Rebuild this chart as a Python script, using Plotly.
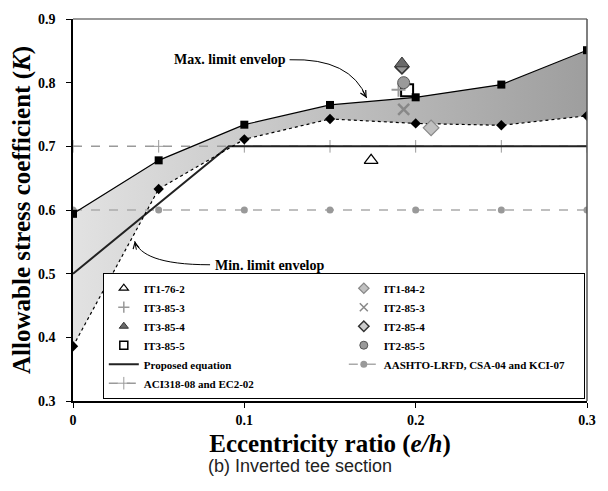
import plotly.graph_objects as go

# ---------------- data ----------------
ecc = [0, 0.05, 0.1, 0.15, 0.2, 0.25, 0.3]
max_env = [0.594, 0.678, 0.734, 0.765, 0.777, 0.797, 0.851]
min_env = [0.386, 0.633, 0.711, 0.743, 0.736, 0.733, 0.748]
aci_k = [0.7, 0.7, 0.7, 0.7, 0.7, 0.7, 0.7]
aashto_k = [0.6, 0.6, 0.6, 0.6, 0.6, 0.6, 0.6]
prop_x = [0, 0.0909, 0.3]
prop_k = [0.5, 0.7, 0.7]

specimens = ["IT1-76-2", "IT1-84-2", "IT3-85-3", "IT2-85-3",
             "IT3-85-4", "IT2-85-4", "IT3-85-5", "IT2-85-5"]
spec_x = [0.174, 0.209, 0.190, 0.193, 0.192, 0.192, 0.195, 0.193]
spec_k = [0.678, 0.729, 0.789, 0.758, 0.830, 0.824, 0.788, 0.800]

serif = "Liberation Serif"
fig = go.Figure()

# gradient band between envelopes
fig.add_trace(go.Scatter(x=ecc, y=min_env, mode="lines", line=dict(width=0),
                         showlegend=False, hoverinfo="skip"))
fig.add_trace(go.Scatter(x=ecc, y=max_env, mode="lines", line=dict(width=0),
                         fill="tonexty",
                         fillgradient=dict(type="horizontal",
                                           colorscale=[[0, "#e2e2e2"], [1, "#9e9e9e"]]),
                         showlegend=False, hoverinfo="skip"))

# reference lines
fig.add_trace(go.Scatter(x=ecc, y=aci_k, mode="lines+markers", name="ACI318-08 and EC2-02",
                         line=dict(color="#9a9a9a", width=1.5, dash="dash"),
                         marker=dict(symbol="cross-thin", size=9, line=dict(color="#9a9a9a", width=1)),
                         legendrank=11))
fig.add_trace(go.Scatter(x=ecc, y=aashto_k, mode="lines+markers",
                         name="AASHTO-LRFD, CSA-04 and KCI-07",
                         line=dict(color="#aaaaaa", width=1.5, dash="dash"),
                         marker=dict(symbol="circle", size=7, color="#999999"),
                         legendrank=10))
fig.add_trace(go.Scatter(x=prop_x, y=prop_k, mode="lines", name="Proposed equation",
                         line=dict(color="#222222", width=2), legendrank=9))

# envelopes
fig.add_trace(go.Scatter(x=ecc, y=max_env, mode="lines+markers", showlegend=False,
                         line=dict(color="black", width=1.2),
                         marker=dict(symbol="square", size=8, color="black")))
fig.add_trace(go.Scatter(x=ecc, y=min_env, mode="lines+markers", showlegend=False,
                         line=dict(color="black", width=1.2, dash="dot"),
                         marker=dict(symbol="diamond", size=8, color="black")))

# specimens
styles = {
    "IT1-76-2": dict(symbol="triangle-up-open", color="black", line=dict(width=1.2, color="black")),
    "IT1-84-2": dict(symbol="diamond", color="#c0c0c0", line=dict(width=1.2, color="#888888")),
    "IT3-85-3": dict(symbol="cross-thin", color="#999999", line=dict(width=2, color="#999999")),
    "IT2-85-3": dict(symbol="x-thin", color="#888888", line=dict(width=2.5, color="#888888")),
    "IT3-85-4": dict(symbol="triangle-up", color="#6a6a6a", line=dict(width=1, color="#333333")),
    "IT2-85-4": dict(symbol="diamond", color="#999999", line=dict(width=1.5, color="#333333")),
    "IT3-85-5": dict(symbol="square-open", color="black", line=dict(width=2, color="black")),
    "IT2-85-5": dict(symbol="circle", color="#9a9a9a", line=dict(width=1, color="#555555")),
}
plot_size = {"IT3-85-3": 10, "IT2-85-3": 11, "IT2-85-4": 10, "IT3-85-4": 13}
draw_order = ["IT1-76-2", "IT1-84-2", "IT2-85-3", "IT2-85-4", "IT3-85-4",
              "IT3-85-5", "IT3-85-3", "IT2-85-5"]
for name in draw_order:
    i = specimens.index(name)
    fig.add_trace(go.Scatter(x=[spec_x[i]], y=[spec_k[i]], mode="markers", name=name,
                             legendgroup=name, showlegend=False,
                             marker=dict(size=plot_size.get(name, 12), **styles[name])))
    # legend entry with smaller symbol (no data points)
    leg_style = dict(styles[name])
    leg_style["line"] = dict(styles[name]["line"])
    leg_style["line"]["width"] = min(leg_style["line"]["width"], 1.5)
    if name == "IT2-85-4":
        leg_style["color"] = "#cccccc"
    fig.add_trace(go.Scatter(x=[None], y=[None], mode="markers", name=name,
                             legendgroup=name, legendrank=i + 1,
                             marker=dict(size=8, **leg_style)))

# curved arrows (annotation leaders)
fig.add_shape(type="path", xref="x", yref="y",
              path="M 0.1264,0.836 Q 0.1620,0.839 0.1714,0.776",
              line=dict(color="black", width=1))
fig.add_shape(type="path", xref="x", yref="y",
              path="M 0.0360,0.551 C 0.0390,0.530 0.0500,0.514 0.0800,0.514",
              line=dict(color="black", width=1))
fig.add_annotation(x=0.1714, y=0.776, ax=-5, ay=-9, text="", showarrow=True,
                   arrowhead=5, arrowsize=1.2, arrowwidth=1, arrowcolor="black")
fig.add_annotation(x=0.0360, y=0.551, ax=2, ay=10, text="", showarrow=True,
                   arrowhead=5, arrowsize=1.2, arrowwidth=1, arrowcolor="black")

fig.add_annotation(x=0.1252, y=0.836, text="Max. limit envelop", showarrow=False,
                   xanchor="right", yanchor="middle",
                   font=dict(family=serif, size=14, color="black", weight="bold"))
fig.add_annotation(x=0.0815, y=0.513, text="Min. limit envelop", showarrow=False,
                   xanchor="left", yanchor="middle",
                   font=dict(family=serif, size=14, color="black", weight="bold"))

fig.add_annotation(xref="paper", yref="paper", x=0.442, y=-0.169,
                   text="(b) Inverted tee section", showarrow=False,
                   xanchor="center", yanchor="middle",
                   font=dict(family="Liberation Sans", size=18, color="#222222"))

fig.update_layout(
    width=608, height=491,
    margin=dict(l=73, r=15, t=16, b=90),
    plot_bgcolor="white", paper_bgcolor="white",
    font=dict(family=serif, color="black"),
    legend=dict(orientation="h", traceorder="normal", x=0.058, y=0.006,
                xanchor="left", yanchor="bottom",
                entrywidth=195, entrywidthmode="pixels",
                bgcolor="white", bordercolor="black", borderwidth=1,
                font=dict(family=serif, size=11, color="black", weight="bold")),
    xaxis=dict(range=[0, 0.3], tickvals=[0, 0.1, 0.2, 0.3], ticktext=["0", "0.1", "0.2", "0.3"],
               showgrid=False, zeroline=False, showline=True, linecolor="black", linewidth=1.5,
               mirror=False, ticks="outside", ticklen=5, tickcolor="black",
               tickfont=dict(family=serif, size=14, weight="bold"),
               title=dict(text="Eccentricity ratio (<i>e/h</i>)", standoff=8,
                          font=dict(family=serif, size=25, weight="bold"))),
    yaxis=dict(range=[0.3, 0.9], tickvals=[0.3, 0.4, 0.5, 0.6, 0.7, 0.8, 0.9],
               tickformat=".1f", ticklabelstandoff=8,
               showgrid=False, zeroline=False, showline=True, linecolor="black", linewidth=1.5,
               mirror=False, ticks="outside", ticklen=5, tickcolor="black",
               tickfont=dict(family=serif, size=14, weight="bold"),
               title=dict(text="Allowable stress coefficient (<i>K</i>)", standoff=0,
                          font=dict(family=serif, size=25, weight="bold"))),
)
# top and right frame
fig.add_shape(type="line", xref="paper", yref="paper", x0=0, x1=1, y0=1, y1=1,
              line=dict(color="#777777", width=1.5))
fig.add_shape(type="line", xref="paper", yref="paper", x0=1, x1=1, y0=0, y1=1,
              line=dict(color="#555555", width=1.5))

fig.write_html("out.html")
